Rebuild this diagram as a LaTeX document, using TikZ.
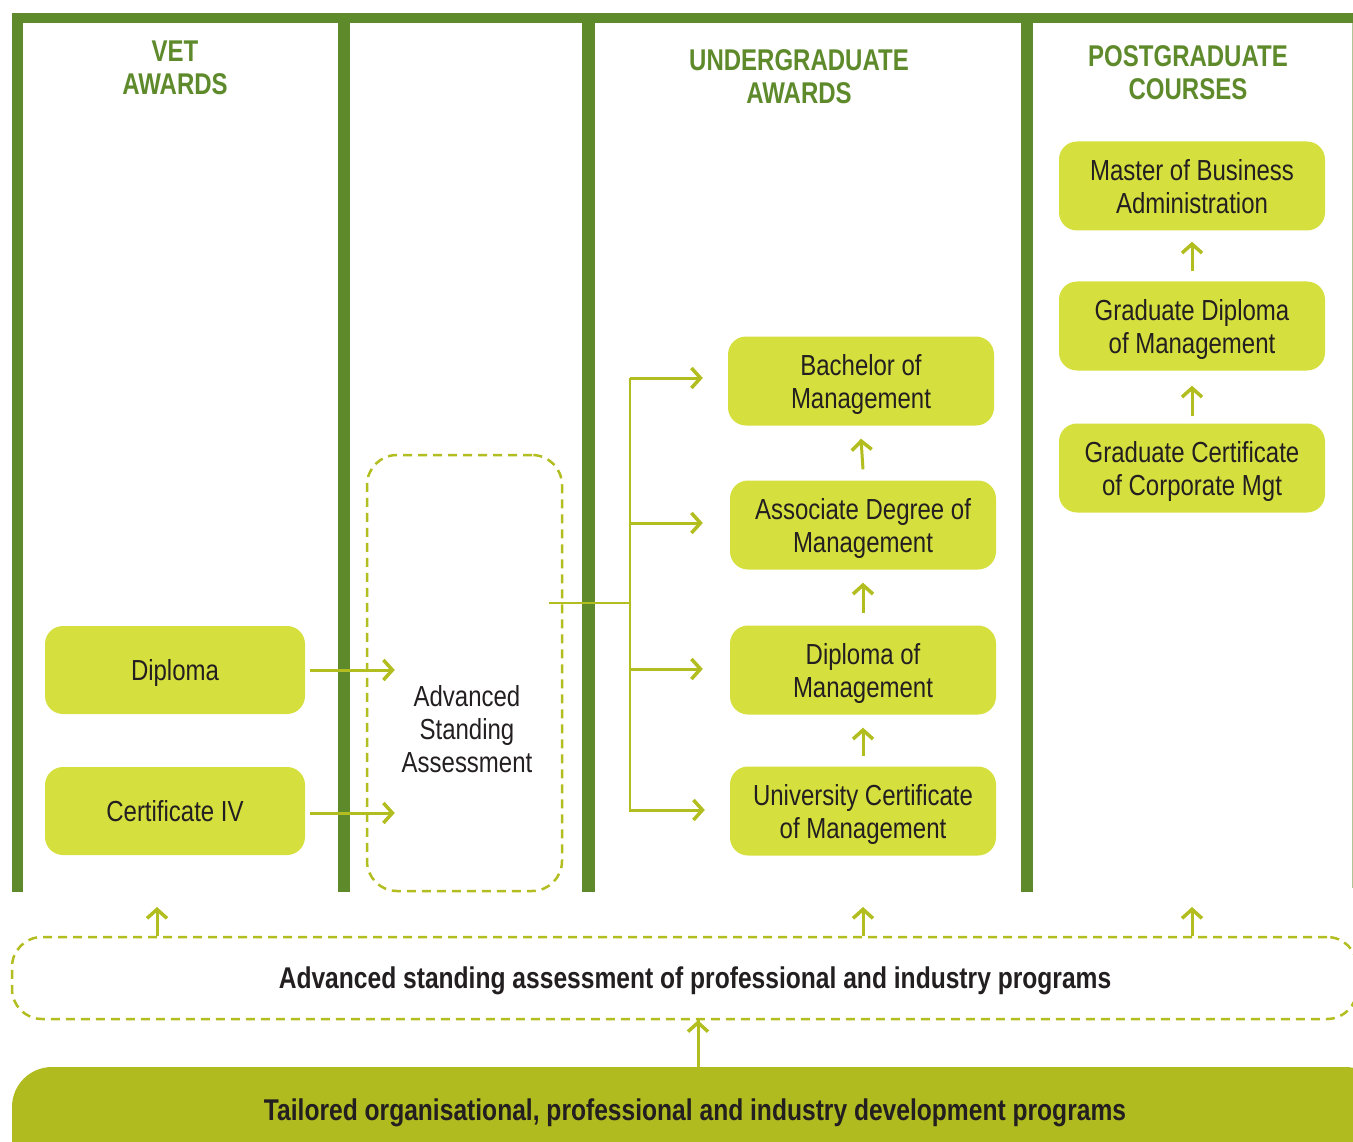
\documentclass[tikz,border=0pt]{standalone}
\usepackage{fontspec}
\setmainfont{Liberation Sans}
\newfontfamily\boxfont{Liberation Sans}[FakeStretch=0.827]
\newfontfamily\headfont{Liberation Sans}[FakeStretch=0.8]
\newfontfamily\botfont{Liberation Sans}[FakeStretch=0.82]
\usetikzlibrary{arrows.meta}
\definecolor{frameg}{HTML}{5E8A2B}
\definecolor{boxf}{HTML}{D5DF3E}
\definecolor{limeg}{HTML}{B2BD1F}
\definecolor{tailf}{HTML}{B0BB1F}
\definecolor{txt}{HTML}{231F20}
\begin{document}
\begin{tikzpicture}[x=1pt,y=-1pt,
 prog/.style={fill=boxf, rounded corners=18pt, minimum width=266pt, minimum height=89pt, align=center, text=txt, font=\boxfont\fontsize{29}{33}\selectfont, inner sep=0pt, text depth=0pt},
 head/.style={text=frameg, align=center, font=\headfont\fontsize{30}{33}\selectfont\bfseries},
 bar/.style={fill=frameg},
 arr/.style={draw=limeg, line width=3pt, -{Straight Barb[length=9pt,width=20pt,line width=3.5pt]}},
 link/.style={draw=limeg, line width=2.5pt},
 dbox/.style={draw=limeg, line width=2.5pt, dash pattern=on 9pt off 6pt, rounded corners=30pt},
 plain/.style={text=txt, align=center, font=\boxfont\fontsize{29}{33}\selectfont, text depth=0pt},
 boldtxt/.style={text=txt, font=\botfont\fontsize{30}{33}\selectfont\bfseries, text depth=0pt}
]
\useasboundingbox (0,0) rectangle (1353,1142);
\clip (0,0) rectangle (1353,1142);
% frame
\fill[bar] (12,13) rectangle (1353,23);
\fill[bar] (12,13) rectangle (23,892);
\fill[bar] (338,13) rectangle (350,892);
\fill[bar] (582,13) rectangle (595,892);
\fill[bar] (1021,13) rectangle (1033,892);
\draw[frameg!50, line width=1pt] (1352.5,23) -- (1352.5,888);
% headers
\node[head] (vet) at (175,67.5) {VET\\AWARDS};
\node[head] (ug) at (799,77) {UNDERGRADUATE\\AWARDS};
\node[head] (pg) at (1188,73) {POSTGRADUATE\\COURSES};
% VET boxes
\node[prog, minimum width=260pt, minimum height=88pt] (dip) at (175,670) {Diploma};
\node[prog, minimum width=260pt, minimum height=88pt] (cert) at (175,811) {Certificate IV};
% advanced standing
\node[dbox, minimum width=195pt, minimum height=436pt] (asa) at (464.5,673) {};
\node[plain] (asat) at (467,729) {Advanced\\Standing\\Assessment};
% undergraduate
\node[prog] (bach) at (861,381) {Bachelor of\\Management};
\node[prog] (assoc) at (863,525) {Associate Degree of\\Management};
\node[prog] (dipm) at (863,670) {Diploma of\\Management};
\node[prog] (ucm) at (863,811) {University Certificate\\of Management};
% postgraduate
\node[prog] (mba) at (1192,186) {Master of Business\\Administration};
\node[prog] (gdm) at (1192,326) {Graduate Diploma\\of Management};
\node[prog] (gcc) at (1192,468) {Graduate Certificate\\of Corporate Mgt};
% bottom boxes
\node[dbox, rounded corners=30pt, minimum width=1345pt, minimum height=82pt] (ads) at (684.5,978) {};
\node[boldtxt] (adst) at (695,978) {Advanced standing assessment of professional and industry programs};
\fill[tailf, rounded corners=40pt] (12,1067) rectangle (1385,1190);
\node[boldtxt] (tailt) at (695,1110) {Tailored organisational, professional and industry development programs};
\coordinate (tail) at (698,1067);
% arrows VET -> ASA
\draw[arr] ([xshift=5pt]dip.east) -- ([xshift=29pt]asa.west |- dip.east);
\draw[arr] ([xshift=5pt]cert.east |- 0,813) -- ([xshift=29pt]asa.west |- 0,813);
% ASA -> undergraduate
\coordinate (hub) at (630,603);
\draw[link] ([xshift=-14pt]asa.east |- hub) -- (hub);
\draw[link] (hub |- 0,378) -- (hub |- 0,810);
\draw[arr] (hub |- 0,378) -- ([xshift=-25pt]bach.west |- 0,378);
\draw[arr] (hub |- 0,523) -- ([xshift=-27pt]assoc.west |- 0,523);
\draw[arr] (hub |- 0,669) -- ([xshift=-27pt]dipm.west |- 0,669);
\draw[arr] ([xshift=-1.25pt]hub |- 0,810) -- ([xshift=-25pt]ucm.west |- 0,810);
% stacked up arrows
\draw[arr] ([yshift=11pt]assoc.north) -- ([yshift=-13pt]bach.south);
\draw[arr] ([yshift=12pt]dipm.north) -- ([yshift=-13pt]assoc.south);
\draw[arr] ([yshift=10pt]ucm.north) -- ([yshift=-13pt]dipm.south);
\draw[arr] ([yshift=10pt]gdm.north) -- ([yshift=-11pt]mba.south);
\draw[arr] ([yshift=7pt]gcc.north) -- ([yshift=-15pt]gdm.south);
% bottom arrows
\draw[arr] (ads.north -| 157,0) -- (157,907);
\draw[arr] (ads.north -| 863,0) -- (863,907);
\draw[arr] (ads.north -| 1192,0) -- (1192,907);
\draw[arr] (tail) -- (ads.south -| tail) ++(0,0);
\end{tikzpicture}
\end{document}
